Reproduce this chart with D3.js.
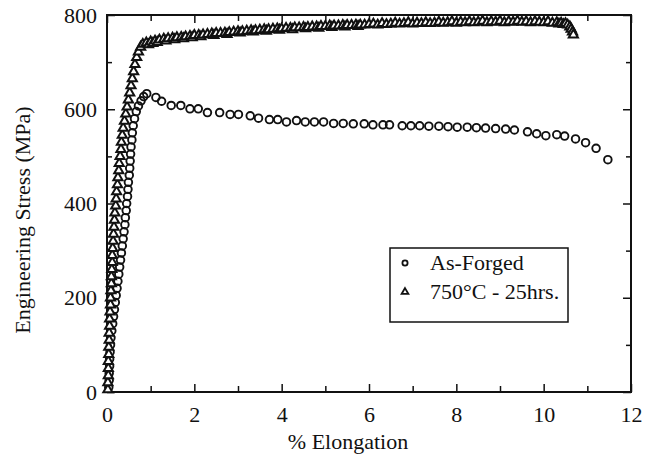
<!DOCTYPE html>
<html>
<head>
<meta charset="utf-8">
<script src="https://cdn.jsdelivr.net/npm/d3@7"></script>
<style>
  body { margin: 0; background: #fff; }
  svg, svg text { font-family: "Liberation Serif", "Times New Roman", Times, "DejaVu Serif", serif !important; fill: #111; }
</style>
</head>
<body>
<div id="chart"></div>
<script>
// As-Forged: [% elongation, engineering stress MPa]
const asForged = [
  [0.04,10],[0.05,25],[0.05,40],[0.06,55],[0.06,70],[0.07,85],[0.08,100],[0.09,115],
  [0.11,130],[0.13,145],[0.15,160],[0.17,175],[0.19,190],[0.21,205],[0.23,220],[0.25,235],
  [0.27,250],[0.29,265],[0.31,280],[0.33,295],[0.35,310],[0.37,325],[0.39,340],[0.41,355],
  [0.42,370],[0.44,385],[0.45,400],[0.47,415],[0.48,430],[0.49,445],[0.51,460],[0.52,475],
  [0.53,490],[0.54,505],[0.55,520],[0.57,535],[0.58,550],[0.60,565],[0.63,580],[0.67,595],
  [0.72,607],[0.78,618],[0.84,627],[0.91,633],
  [1.12,625],[1.25,617],[1.47,608],[1.69,608],[1.90,601],[2.09,601],[2.30,593],[2.58,593],
  [2.82,589],[3.01,589],[3.28,586],[3.47,581],[3.72,578],[3.91,578],[4.11,573],[4.34,576],
  [4.54,573],[4.75,573],[4.96,573],[5.19,570],[5.41,570],
  [5.64,569],[5.89,569],[6.09,567],[6.32,567],[6.47,567],[6.76,565],[6.96,565],[7.16,565],
  [7.37,564],[7.60,564],[7.81,563],[8.02,562],[8.25,562],[8.46,561],[8.67,560],[8.90,559],
  [9.13,558],[9.33,556],[9.63,552],[9.84,548],[10.05,544],[10.30,546],[10.48,543],[10.73,537],
  [10.96,529],[11.20,517],[11.47,493]
];

// 750°C - 25hrs.
const aged = [
  [0.02,5],[0.02,20],[0.03,35],[0.03,50],[0.03,65],[0.04,80],[0.04,95],[0.05,110],[0.05,125],
  [0.06,140],[0.06,155],[0.07,170],[0.08,185],[0.08,200],[0.09,215],[0.10,230],[0.10,245],
  [0.11,260],[0.12,275],[0.12,290],[0.13,305],[0.14,320],[0.15,335],[0.16,350],[0.17,365],
  [0.18,380],[0.20,395],[0.21,410],[0.22,425],[0.24,440],[0.25,455],[0.27,470],[0.28,485],
  [0.30,500],[0.32,515],[0.33,530],[0.35,545],[0.37,560],[0.40,575],[0.43,590],[0.46,605],
  [0.49,620],[0.52,635],[0.55,650],[0.58,665],[0.61,680],[0.64,695],[0.68,710],[0.72,722],
  [0.77,732],[0.82,738],
  [0.9,741],[0.95,737],[1.0,743],[1.05,740],[1.1,745],[1.15,742],[1.2,747],[1.3,749],[1.35,745],
  [1.4,750],[1.5,751],[1.55,748],[1.6,752],[1.7,753],[1.75,750],[1.8,754],[1.9,755],[1.95,752],
  [2.0,757],[2.1,757],[2.15,754],[2.2,758],[2.3,759],[2.4,760],[2.45,757],[2.5,761],[2.6,761],
  [2.7,762],[2.75,759],[2.8,763],[2.9,764],[3.0,765],[3.05,762],[3.1,765],[3.2,766],[3.3,767],
  [3.35,764],[3.4,767],[3.5,768],[3.6,769],[3.65,766],[3.7,769],[3.8,770],[3.9,771],[3.95,768],
  [4.0,771],[4.1,772],[4.2,772],[4.25,769],[4.3,773],[4.4,773],[4.5,774],[4.55,771],[4.6,774],
  [4.7,775],[4.8,775],[4.85,772],[4.9,776],[5.0,776],[5.1,777],[5.15,774],[5.2,777],[5.3,777],
  [5.4,778],[5.45,775],[5.5,778],[5.6,778],[5.7,779],[5.75,776],[5.8,779],[5.9,779],[6.0,780],
  [6.1,781],[6.2,779],[6.3,782],[6.4,780],[6.5,781],[6.6,783],[6.7,781],[6.8,782],[6.9,784],
  [7.0,781],[7.1,783],[7.2,782],[7.3,784],[7.4,782],[7.5,783],[7.6,785],[7.7,783],[7.8,784],
  [7.9,786],[8.0,783],[8.1,785],[8.2,784],[8.3,786],[8.4,784],[8.5,785],[8.6,787],[8.7,784],
  [8.8,786],[8.9,785],[9.0,787],[9.1,784],[9.2,786],[9.3,785],[9.4,787],[9.5,785],[9.6,786],
  [9.7,784],[9.8,786],[9.9,785],[10.0,784],[10.1,786],[10.2,783],[10.3,784],[10.35,781],
  [10.4,783],[10.45,780],[10.5,782],[10.55,779],[10.6,775],[10.63,770],[10.66,764],[10.68,758]
];

const seriesNames = ["As-Forged", "750\u00b0C - 25hrs."];
const xTicks = [0,1,2,3,4,5,6,7,8,9,10,11,12];
const xLabelTicks = [0,2,4,6,8,10,12];
const yTicks = [0,100,200,300,400,500,600,700,800];
const yLabelTicks = [0,200,400,600,800];

const W = 647, H = 454;
const margin = { top: 15, right: 16, bottom: 62, left: 107 };
const FONT = 22;
const SERIF = '"Liberation Serif", "Times New Roman", Times, "DejaVu Serif", serif';

const svg = d3.select("#chart").append("svg")
  .attr("width", W)
  .attr("height", H)
  .style("font-family", SERIF);

const x = d3.scaleLinear().domain([0, 12]).range([margin.left, W - margin.right]);
const y = d3.scaleLinear().domain([0, 800]).range([H - margin.bottom, margin.top]);

// axes, ticks pointing inward on all four sides
function styleAxis(g, labelled, isMajor) {
  g.attr("font-family", null).attr("font-size", null);
  g.select(".domain").remove();
  g.selectAll(".tick line").attr("stroke", "#111").attr("stroke-width", 1.5);
  g.selectAll(".tick text")
    .style("font-family", SERIF)
    .style("font-size", FONT + "px")
    .text(d => (labelled && isMajor(d)) ? d : "");
}

const xMajor = d => xLabelTicks.includes(d);
const yMajor = d => yLabelTicks.includes(d);

svg.append("g")
  .attr("transform", `translate(0,${y(0)})`)
  .call(d3.axisBottom(x).tickValues(xTicks).tickSize(-8).tickPadding(14))
  .call(g => styleAxis(g, true, xMajor))
  .call(g => g.selectAll(".tick line").attr("y2", d => xMajor(d) ? -8 : -6));

svg.append("g")
  .attr("transform", `translate(0,${y(800)})`)
  .call(d3.axisTop(x).tickValues(xTicks).tickSize(-8))
  .call(g => styleAxis(g, false, xMajor))
  .call(g => g.selectAll(".tick line").attr("y2", d => xMajor(d) ? 8 : 6));

svg.append("g")
  .attr("transform", `translate(${x(0)},0)`)
  .call(d3.axisLeft(y).tickValues(yTicks).tickSize(-8).tickPadding(10))
  .call(g => styleAxis(g, true, yMajor))
  .call(g => g.selectAll(".tick line").attr("x2", d => yMajor(d) ? 8 : 5));

svg.append("g")
  .attr("transform", `translate(${x(12)},0)`)
  .call(d3.axisRight(y).tickValues(yTicks).tickSize(-8))
  .call(g => styleAxis(g, false, yMajor))
  .call(g => g.selectAll(".tick line").attr("x2", d => yMajor(d) ? -8 : -5));

// frame
svg.append("rect")
  .attr("x", x(0)).attr("y", y(800))
  .attr("width", x(12) - x(0)).attr("height", y(0) - y(800))
  .attr("fill", "none").attr("stroke", "#111").attr("stroke-width", 2);

// data
svg.append("g").selectAll("circle")
  .data(asForged)
  .join("circle")
  .attr("cx", d => x(d[0]))
  .attr("cy", d => y(d[1]))
  .attr("r", 3.8)
  .attr("fill", "none")
  .attr("stroke", "#111")
  .attr("stroke-width", 1.9);

const tri = d3.symbol(d3.symbolTriangle).size(36);
svg.append("g").selectAll("path")
  .data(aged)
  .join("path")
  .attr("transform", d => `translate(${x(d[0])},${y(d[1])})`)
  .attr("d", tri)
  .attr("fill", "#fff")
  .attr("stroke", "#111")
  .attr("stroke-width", 2);

// axis titles
svg.append("text")
  .attr("x", 348).attr("y", 449)
  .attr("text-anchor", "middle")
  .style("font-size", FONT + "px")
  .text("% Elongation");

svg.append("text")
  .attr("transform", `translate(30,220) rotate(-90)`)
  .attr("text-anchor", "middle")
  .style("font-size", FONT + "px")
  .text("Engineering Stress (MPa)");

// legend
const legend = svg.append("g").attr("transform", "translate(390,248)");
legend.append("rect")
  .attr("width", 178).attr("height", 74)
  .attr("fill", "#fff").attr("stroke", "#111").attr("stroke-width", 1.5);

legend.append("circle")
  .attr("cx", 15).attr("cy", 15).attr("r", 2.6)
  .attr("fill", "none").attr("stroke", "#111").attr("stroke-width", 1.8);
legend.append("path")
  .attr("transform", "translate(15,44)")
  .attr("d", d3.symbol(d3.symbolTriangle).size(20))
  .attr("fill", "#fff").attr("stroke", "#111").attr("stroke-width", 1.8);

legend.selectAll("text.lbl")
  .data(seriesNames)
  .join("text")
  .attr("class", "lbl")
  .attr("x", 40)
  .attr("y", (d, i) => 22 + i * 29)
  .style("font-size", FONT + "px")
  .text(d => d);
</script>
</body>
</html>
